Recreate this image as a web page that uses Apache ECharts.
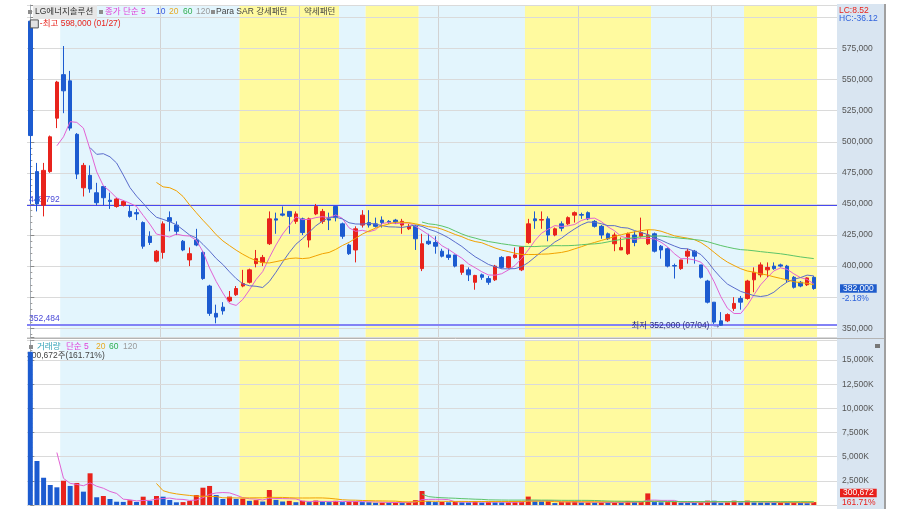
<!DOCTYPE html>
<html><head><meta charset="utf-8">
<script src="https://cdn.jsdelivr.net/npm/echarts@6/dist/echarts.min.js"></script>
<style>html,body{margin:0;padding:0;background:#fff}#c{width:905px;height:512px}</style>
</head><body><div id="c"></div>
<script>
// ---------------- DATA ----------------
const dates = ['2022-01-27','2022-01-28',
'2022-02-03','2022-02-04','2022-02-07','2022-02-08','2022-02-09','2022-02-10','2022-02-11','2022-02-14','2022-02-15','2022-02-16','2022-02-17','2022-02-18','2022-02-21','2022-02-22','2022-02-23','2022-02-24','2022-02-25','2022-02-28',
'2022-03-02','2022-03-03','2022-03-04','2022-03-07','2022-03-08','2022-03-10','2022-03-11','2022-03-14','2022-03-15','2022-03-16','2022-03-17','2022-03-18','2022-03-21','2022-03-22','2022-03-23','2022-03-24','2022-03-25','2022-03-28','2022-03-29','2022-03-30','2022-03-31',
'2022-04-01','2022-04-04','2022-04-05','2022-04-06','2022-04-07','2022-04-08','2022-04-11','2022-04-12','2022-04-13','2022-04-14','2022-04-15','2022-04-18','2022-04-19','2022-04-20','2022-04-21','2022-04-22','2022-04-25','2022-04-26','2022-04-27','2022-04-28','2022-04-29',
'2022-05-02','2022-05-03','2022-05-04','2022-05-06','2022-05-09','2022-05-10','2022-05-11','2022-05-12','2022-05-13','2022-05-16','2022-05-17','2022-05-18','2022-05-19','2022-05-20','2022-05-23','2022-05-24','2022-05-25','2022-05-26','2022-05-27','2022-05-30','2022-05-31',
'2022-06-02','2022-06-03','2022-06-07','2022-06-08','2022-06-09','2022-06-10','2022-06-13','2022-06-14','2022-06-15','2022-06-16','2022-06-17','2022-06-20','2022-06-21','2022-06-22','2022-06-23','2022-06-24','2022-06-27','2022-06-28','2022-06-29','2022-06-30',
'2022-07-01','2022-07-04','2022-07-05','2022-07-06','2022-07-07','2022-07-08','2022-07-11','2022-07-12','2022-07-13','2022-07-14','2022-07-15','2022-07-18','2022-07-19','2022-07-20','2022-07-21','2022-07-22'];

const opens = [597000,476000,449000,476000,519000,554000,549000,506000,463000,473000,
459000,464000,453000,448000,449000,444000,443000,435000,424000,404000,
411000,439000,433000,420000,405000,421000,411000,384000,362000,367000,
372000,377000,384000,387000,402000,403000,418000,438000,442000,444000,
436000,438000,421000,442000,436000,438000,448000,434000,417000,413000,
433000,435000,434000,437000,436000,437000,433000,430000,432000,398000,
420000,419000,412000,409000,409000,395000,397000,387000,393000,390000,
389000,407000,399000,407000,397000,419000,438000,437000,438000,425000,
434000,434000,441000,441500,443000,436000,432000,426000,418000,413000,
410000,425000,424000,418000,426000,416000,414000,400500,398000,408000,
412000,401000,388000,371000,356000,356000,366000,374000,374000,389000,
393000,397000,400000,401000,400000,391000,387000,385000,391000];

const highs = [598000,483000,483000,505000,549000,577000,557000,507000,483000,481000,
467000,464000,459000,455000,453000,449000,446000,436000,428000,413000,
436000,444000,436000,421000,415000,430000,412000,385000,369000,371000,
380000,384000,397000,398000,413000,409000,444000,443000,448000,444000,
444000,439000,439000,450000,446000,443000,448000,435000,418000,432000,
445000,445000,439000,440000,437000,438000,438000,434000,433000,426000,
426000,424000,414000,414000,409000,401000,399000,393000,394000,392000,
401000,408000,408000,415000,416000,438000,444000,444000,440000,431000,
436000,440000,444000,443000,444000,437000,433000,427000,427000,423000,
427000,428000,439000,429000,427000,417000,415000,402000,405000,414000,
413000,401000,389000,371000,363000,362000,375000,376000,389000,399000,
403000,403000,403000,402000,401000,392000,388000,391000,392000];

const lows = [450000,444000,440000,475000,511000,523000,509000,470000,456000,459000,
449000,449000,446000,447000,448000,439000,437000,414000,417000,403000,
406000,428000,425000,412000,400000,416000,389000,360000,354000,361000,
371000,376000,383000,386000,399000,400000,417000,426000,440000,426000,
434000,425000,415000,441000,434000,429000,436000,422000,409000,403000,
431000,431000,431000,431000,434000,434000,426000,429000,413000,396000,
417000,410000,407000,405000,399000,393000,388000,381000,389000,385000,
388000,398000,398000,406000,396000,418000,430000,430000,420000,424000,
428000,433000,435000,438000,437000,431000,422000,421000,412000,413000,
409000,416000,423000,417000,411000,406000,399000,390000,397000,402000,
402000,390000,370000,353500,352000,355000,364000,365000,373000,379000,
391000,391000,397000,399000,387000,382000,383000,384000,381000];

const closes = [505000,450000,477000,504000,548000,541000,511000,474000,481000,462000,
451000,455000,452000,454000,452000,440000,442000,416000,419000,412000,
434000,436000,428000,413000,410000,417000,390000,362000,359000,364000,
375000,382000,386000,397000,406000,407000,438000,437000,441000,440000,
442000,427000,438000,448000,444000,437000,439000,424000,410000,430000,
441000,433000,432000,435000,435000,435500,436000,432000,422000,418000,
418000,416000,408000,407000,400000,401000,393000,392500,391000,387000,
400000,399000,407500,409000,415500,434000,436500,437500,425000,430000,
430500,439000,443000,441000,438000,432000,425000,422000,425000,415000,
426000,419000,427000,425000,412000,413000,400000,400000,405000,412000,
408000,391000,371000,355000,352500,361000,370000,371000,388000,395000,
401000,399000,398000,400000,389000,383000,384000,390500,382000];

const volumes = [15860000,4550000,2820000,2070000,1830000,2510000,1970000,2280000,1380000,3280000,
800000,930000,620000,340000,320000,490000,310000,860000,410000,930000,
860000,520000,280000,300000,410000,1030000,1790000,1970000,1030000,620000,
870000,630000,660000,430000,500000,360000,1550000,530000,360000,430000,
290000,430000,300000,460000,360000,300000,430000,300000,360000,380000,
300000,290000,230000,250000,240000,260000,250000,300000,500000,1450000,
400000,300000,310000,280000,330000,280000,270000,400000,250000,300000,
280000,270000,290000,300000,340000,870000,370000,360000,380000,200000,
300000,310000,380000,250000,260000,250000,260000,250000,260000,240000,
420000,300000,310000,1200000,300000,280000,300000,310000,230000,220000,
210000,230000,450000,440000,200000,260000,450000,250000,450000,260000,
250000,240000,230000,250000,230000,250000,215000,185930,300672];

// Parabolic SAR pattern periods: [first index, last index, type]
const sarBands = [[5,31,'bear'],[32,46,'bull'],[47,50,'bear'],[51,58,'bull'],
                  [59,74,'bear'],[75,93,'bull'],[94,107,'bear'],[108,118,'bull']];
// first trading day of each month with a vertical grid line
const monthGrid = ['2022-03-02','2022-04-01','2022-05-02','2022-06-02','2022-07-01'];
const priceMaPeriods = [5,10,20,60,120];
const volMaPeriods = [5,20,60,120];
const levelLines = [448792, 352484];
const hiddenPriceLabels = [375000, 600000];
const padCats = ['', ' ', '  '];

// ---------------- HELPERS ----------------
const N = dates.length;
const cats = dates.concat(padCats);
const M = cats.length;
const FONT = "'Liberation Sans','Noto Sans CJK KR',sans-serif";
const FS = 8.5;
const RED = '#e8231c', BLUE = '#1c5bd0';
const BEAR_BG = '#e3f5fd', BULL_BG = '#fffa9f';
const MA_COLORS = {5:'#e263d4',10:'#5a6ccc',20:'#f2a200',60:'#5cc46a',120:'#a0a0a0'};
const LEG_COLORS = {5:'#e040d8',10:'#3558e0',20:'#e8aa22',60:'#2fae4f',120:'#9a9a9a'};
const LEVEL_STYLES = [{color:'#4848f0', width:1}, {color:'#8282f6', width:2}];
const fmt = v => Math.round(v).toLocaleString('en-US');
const mmdd = d => d.slice(5,7) + '/' + d.slice(8,10);
function sma(arr, p){ const out=[]; let s=0; for(let i=0;i<arr.length;i++){ s+=arr[i]; if(i>=p) s-=arr[i-p]; out.push(i>=p-1 ? +(s/p).toFixed(1) : '-'); } return out; }

const lastClose = closes[N-1], prevClose = closes[N-2];
const chgPct = ((lastClose/prevClose - 1)*100).toFixed(2);
const hiIdx = highs.indexOf(Math.max(...highs));
const loIdx = lows.indexOf(Math.min(...lows));
const LC = ((lastClose/lows[loIdx] - 1)*100).toFixed(2);
const HC = ((lastClose/highs[hiIdx] - 1)*100).toFixed(2);
const lastVol = volumes[N-1];
const volPct = (lastVol/volumes[N-2]*100).toFixed(2);

const bandSeries = (xi, yi) => ({type:'line', xAxisIndex:xi, yAxisIndex:yi, data:[], z:-2, silent:true,
  markArea:{silent:true, z:-2, data: sarBands.map(b => [{xAxis:b[0]-0.5, itemStyle:{color: b[2]==='bull'?BULL_BG:BEAR_BG}}, {xAxis:b[1]+0.5}])}});
const monthSeries = (xi, yi) => ({type:'line', xAxisIndex:xi, yAxisIndex:yi, data:[], z:-1, silent:true,
  markLine:{silent:true, z:-1, symbol:'none', label:{show:false}, lineStyle:{color:'#d2d2d2', width:1, type:'solid'},
    data: monthGrid.map(d => ({xAxis: dates.indexOf(d) - 0.5}))}});
const levelSeries = {type:'line', xAxisIndex:2, yAxisIndex:0, data:[], z:2, silent:true,
  markLine:{silent:true, z:2, symbol:'none',
    data: levelLines.map((v,k) => ({yAxis:v,
      lineStyle:{color:LEVEL_STYLES[k].color, width:LEVEL_STYLES[k].width, type:'solid', opacity:1},
      label:{show:true, position:'insideStartTop', distance:2, formatter: fmt(v), color:'#4a4ad8', fontSize:FS, fontFamily:FONT}}))}};

const txt = (x, y, text, color, extra) => Object.assign({type:'text', z:1, silent:true, x, y,
  style:{text, fill:color, fontSize:FS, fontFamily:FONT, verticalAlign:'middle'}}, extra||{});
const sq = (x, y) => ({type:'rect', z:1, silent:true, shape:{x, y, width:4, height:4}, style:{fill:'#8c8c8c'}});

const catAxis = gi => ({type:'category', gridIndex:gi, data:cats, boundaryGap:true,
  axisLine:{show:false}, axisTick:{show:false}, axisLabel:{show:false}, splitLine:{show:false}});
const valXAxis = gi => ({type:'value', gridIndex:gi, min:-0.5, max:M-0.5, show:false});
const yCommon = {position:'right',
  axisLine:{show:true, lineStyle:{color:'#a8b0b8'}},
  axisTick:{show:true, length:4, lineStyle:{color:'#8a8a8a'}},
  minorTick:{show:true, splitNumber:5, length:2, lineStyle:{color:'#9a9a9a'}},
  splitLine:{show:true, lineStyle:{color:'#dadada', width:1}}};

const legendGraphics = [
  {type:'rect', z:-10, silent:true, shape:{x:837, y:4, width:47, height:505}, style:{fill:'#d9e5f1'}},
  {type:'line', z:5, silent:true, shape:{x1:885, y1:4, x2:885, y2:509}, style:{stroke:'#a0a0a0', lineWidth:2}},
  {type:'line', z:5, silent:true, shape:{x1:27, y1:338.5, x2:884, y2:338.5}, style:{stroke:'#b4b4b4', lineWidth:1}},
  sq(28,10),
  {type:'rect', z:1, silent:true, shape:{x:33, y:5, width:64, height:14}, style:{fill:'#e6e6e6'}},
  txt(35, 12, 'LG에너지솔루션', '#333'),
  sq(99,10),
  txt(105, 12, '종가 단순 5', LEG_COLORS[5]),
  txt(156, 12, '10', LEG_COLORS[10]),
  txt(169, 12, '20', LEG_COLORS[20]),
  txt(183, 12, '60', LEG_COLORS[60]),
  txt(196, 12, '120', LEG_COLORS[120]),
  sq(211,10),
  txt(216, 12, 'Para SAR 강세패턴', '#444'),
  txt(304, 12, '약세패턴', '#444'),
  txt(839, 10.5, 'LC:' + LC, RED, {z:6}),
  txt(839, 18.5, 'HC:' + HC, '#2f62dc', {z:6}),
  sq(29,345),
  txt(37, 346.5, '거래량', '#35a3b8'),
  txt(66, 346.5, '단순 5', LEG_COLORS[5]),
  txt(96, 346.5, '20', LEG_COLORS[20]),
  txt(109, 346.5, '60', LEG_COLORS[60]),
  txt(123, 346.5, '120', LEG_COLORS[120]),
  txt(27, 355.5, fmt(lastVol) + '주(' + volPct + '%)', '#444'),
  {type:'rect', z:6, silent:true, shape:{x:875, y:344, width:5, height:4}, style:{fill:'#777'}}
];

const series = [
  bandSeries(2, 0), monthSeries(2, 0),
  bandSeries(3, 1), monthSeries(3, 1),
  levelSeries,
  {name:'LG에너지솔루션', type:'candlestick', xAxisIndex:0, yAxisIndex:0, barWidth:4, z:3,
   data: dates.map((d,i) => [opens[i], closes[i], lows[i], highs[i]]),
   itemStyle:{color:RED, color0:BLUE, borderColor:RED, borderColor0:BLUE, borderWidth:1},
   markLine:{silent:true, symbol:'none', data:[{yAxis:lastClose, lineStyle:{color:'rgba(0,0,0,0)', width:0},
       label:{show:true, position:'end', distance:3,
         formatter: '{e| }\n{a|' + fmt(lastClose) + '}\n{b|' + chgPct + '%}',
         rich:{e:{fontSize:FS, lineHeight:10},
               a:{fontSize:FS, lineHeight:10, color:'#fff', backgroundColor:'#1f5ccc', padding:[0,3,0,3], fontFamily:FONT},
               b:{fontSize:FS, lineHeight:10, color:'#2d62db', fontFamily:FONT, padding:[0,0,0,2]}}}}]},
   markPoint:{silent:true, data:[
     {coord:[dates[hiIdx], highs[hiIdx]], symbol:'rect', symbolSize:[8,8], symbolOffset:[4,4],
      itemStyle:{color:'#e2e2e2', borderColor:'#555', borderWidth:1},
      label:{show:true, position:'right', distance:1, formatter:'-최고 ' + fmt(highs[hiIdx]) + ' (' + mmdd(dates[hiIdx]) + ')', color:RED, fontSize:FS, fontFamily:FONT}},
     {coord:[dates[loIdx], lows[loIdx]], symbol:'circle', symbolSize:1, itemStyle:{color:'rgba(0,0,0,0)'},
      label:{show:true, position:'left', distance:0, formatter:'최저 ' + fmt(lows[loIdx]) + ' (' + mmdd(dates[loIdx]) + ') →', color:'#2b2b7e', fontSize:FS, fontFamily:FONT}}
   ]}},
  ...priceMaPeriods.map(p => ({name:'MA'+p, type:'line', xAxisIndex:0, yAxisIndex:0, data:sma(closes,p),
     symbol:'none', showSymbol:false, silent:true, z:4, lineStyle:{width:1, color:MA_COLORS[p]}})),
  {name:'거래량', type:'bar', xAxisIndex:1, yAxisIndex:1, barWidth:5, z:3,
   data: volumes.map((v,i) => ({value:v, itemStyle:{color: i>0 && v>volumes[i-1] ? RED : BLUE}})),
   markLine:{silent:true, symbol:'none', data:[{yAxis:lastVol, lineStyle:{color:'rgba(0,0,0,0)', width:0},
     label:{show:true, position:'end', distance:3,
       formatter: '{a|' + fmt(lastVol) + '}\n{b|' + volPct + '%}\n{e| }',
       rich:{e:{fontSize:FS, lineHeight:9},
             a:{fontSize:FS, lineHeight:10, color:'#fff', backgroundColor:'#e8201c', padding:[0,3,0,3], fontFamily:FONT},
             b:{fontSize:FS, lineHeight:9, color:'#e8201c', fontFamily:FONT, padding:[0,0,0,2]}}}}]}},
  ...volMaPeriods.map(p => ({name:'VMA'+p, type:'line', xAxisIndex:1, yAxisIndex:1, data:sma(volumes,p),
     symbol:'none', showSymbol:false, silent:true, z:4, lineStyle:{width:1, color:MA_COLORS[p]}}))
];

const option = {
  backgroundColor:'#ffffff',
  animation:false,
  grid:[{left:27, top:5, width:810, height:332, outerBoundsMode:'none'},
        {left:27, top:340, width:810, height:165, outerBoundsMode:'none'}],
  xAxis:[catAxis(0), catAxis(1), valXAxis(0), valXAxis(1)],
  yAxis:[
    Object.assign({type:'value', gridIndex:0, min:343000, max:610000, minInterval:25000, maxInterval:25000,
      axisLabel:{margin:5, color:'#555', fontSize:FS, fontFamily:FONT, showMinLabel:false, showMaxLabel:false,
        formatter: v => hiddenPriceLabels.includes(v) ? '' : fmt(v)}}, yCommon),
    Object.assign({type:'value', gridIndex:1, min:0, max:17070000, interval:2500000,
      axisLabel:{margin:5, color:'#555', fontSize:FS, fontFamily:FONT, showMinLabel:false, showMaxLabel:false,
        formatter: v => (v<=0 || v>15000000) ? '' : fmt(v/1000) + 'K'}}, yCommon)
  ],
  graphic: legendGraphics,
  series
};
const chart = echarts.init(document.getElementById('c'), null, {renderer:'canvas', width:905, height:512});
chart.setOption(option);
</script>
</body></html>
